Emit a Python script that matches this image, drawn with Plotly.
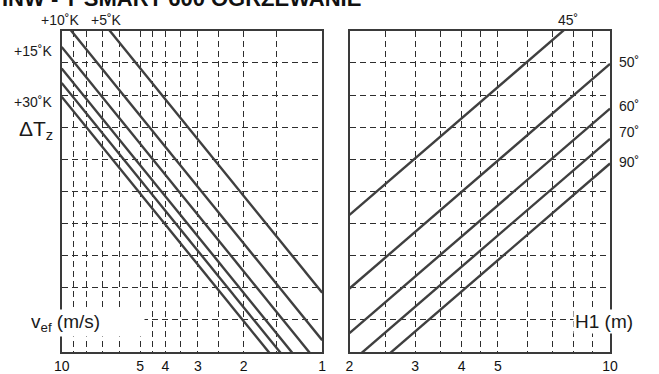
import math
import plotly.graph_objects as go

W, H = 659, 374

# Left panel: effective wind speed v_ef (log scale, decreasing to the right)
speed_ticks = [10, 5, 4, 3, 2, 1]
speed_grid = [10, 9, 8, 7, 6, 5, 4.5, 4, 3.5, 3, 2.5, 2, 1.5, 1]
speed_ends = [10, 1]
dt_names = ["+5˚K", "+10˚K", "+15˚K", "+20˚K", "+25˚K", "+30˚K"]
dt_at_v10 = [11.85, 10.37, 9.50, 8.83, 8.38, 7.95]
dt_at_v1 = [1.85, 0.37, -0.50, -1.17, -1.62, -2.05]

# Right panel: height H1 (log scale)
height_ticks = [2, 3, 4, 5, 10]
height_grid = [2, 2.5, 3, 3.5, 4, 4.5, 5, 6, 7, 8, 9, 10]
height_ends = [2, 10]
angle_names = ["45˚", "50˚", "60˚", "70˚", "90˚"]
angle_at_h2 = [4.27, 1.98, 0.59, -0.35, -1.12]
angle_at_h10 = [11.26, 8.97, 7.58, 6.64, 5.87]

# Shared vertical scale (unlabelled grid)
level_grid = [1, 2, 3, 4, 5, 6, 7, 8, 9]

FONT = "Liberation Sans, Arial, sans-serif"
LINE = dict(color="#3f3f3f", width=2.4)
FRAME = "#3a3a3a"
GRID = "#2e2e2e"


def px(x):
    return x / W


def py(y):
    return 1 - y / H


fig = go.Figure()

for name, a, b in zip(dt_names, dt_at_v10, dt_at_v1):
    fig.add_trace(go.Scatter(x=speed_ends, y=[a, b], mode="lines", name=name,
                             line=LINE, xaxis="x", yaxis="y", showlegend=False,
                             hoverinfo="skip"))

for name, a, b in zip(angle_names, angle_at_h2, angle_at_h10):
    fig.add_trace(go.Scatter(x=height_ends, y=[a, b], mode="lines", name=name,
                             line=LINE, xaxis="x2", yaxis="y2", showlegend=False,
                             hoverinfo="skip"))


def tick_text(vals, labelled):
    return [str(v) if v in labelled else "" for v in vals]


axis_common = dict(
    showgrid=True, griddash="6px,4px", gridcolor=GRID, gridwidth=1,
    showline=True, mirror=True, linecolor=FRAME, linewidth=1.6,
    ticks="", zeroline=False, tickfont=dict(family=FONT, size=14, color="#111"),
    fixedrange=True,
)

y_dom = [py(354), py(31)]

fig.update_layout(
    width=W, height=H,
    margin=dict(l=0, r=0, t=0, b=0),
    paper_bgcolor="white", plot_bgcolor="white",
    xaxis=dict(type="log", range=[1, 0], domain=[px(55), px(322)], anchor="y",
               tickmode="array", tickvals=speed_grid,
               ticktext=tick_text(speed_grid, speed_ticks), **axis_common),
    yaxis=dict(range=[0, 10], domain=y_dom, anchor="x", tickmode="array",
               tickvals=level_grid, showticklabels=False, **axis_common),
    xaxis2=dict(type="log", range=[math.log10(2), 1], domain=[px(350), px(617)],
                anchor="y2", tickmode="array", tickvals=height_grid,
                ticktext=tick_text(height_grid, height_ticks), **axis_common),
    yaxis2=dict(range=[0, 10], domain=y_dom, anchor="x2", tickmode="array",
                tickvals=level_grid, showticklabels=False, **axis_common),
)

small = dict(family=FONT, size=14, color="#1a1a1a")
big = dict(family=FONT, size=19, color="#1a1a1a")

labels = [
    ("+10˚K", 53, 20, "center", small),
    ("+5˚K", 101, 20, "center", small),
    ("+15˚K", 26, 51, "center", small),
    ("+30˚K", 26, 103, "center", small),
    ("45˚", 574, 20, "center", small),
    ("50˚", 636, 62, "center", small),
    ("60˚", 636, 107, "center", small),
    ("70˚", 636, 133, "center", small),
    ("90˚", 636, 163, "center", small),
]
for text, x, y, xa, f in labels:
    fig.add_annotation(text=text, x=px(x), y=py(y), xref="paper", yref="paper",
                       xanchor=xa, yanchor="middle", showarrow=False, font=f)

fig.add_annotation(text="ΔT<sub>z</sub>", x=px(9), y=py(131), xref="paper",
                   yref="paper", xanchor="left", yanchor="middle",
                   showarrow=False, font=dict(family=FONT, size=21, color="#1a1a1a"))
fig.add_annotation(text="v<sub>ef</sub> (m/s)", x=px(22), y=py(325), xref="paper",
                   yref="paper", xanchor="left", yanchor="middle", align="left",
                   width=112, showarrow=False, font=big, bgcolor="white")
fig.add_annotation(text="H1 (m)", x=px(579), y=py(323), xref="paper",
                   yref="paper", xanchor="left", yanchor="middle",
                   showarrow=False, font=big, bgcolor="white")

fig.add_annotation(text="<b>INW - T SMART 600 OGRZEWANIE</b>", x=px(364), y=py(13),
                   xref="paper", yref="paper", xanchor="right", yanchor="bottom",
                   showarrow=False, font=dict(family=FONT, size=22, color="#111"))

fig.write_html("out.html")
